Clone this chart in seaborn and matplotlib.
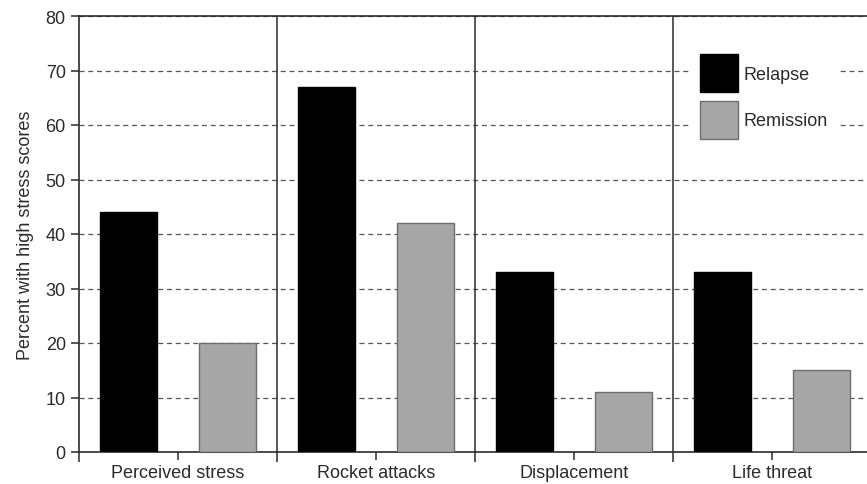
import numpy as np
import matplotlib
matplotlib.use("Agg")
import matplotlib.pyplot as plt
import seaborn as sns
import pandas as pd

# data
categories = ["Perceived stress", "Rocket attacks", "Displacement", "Life threat"]
relapse = [44, 67, 33, 33]
remission = [20, 42, 11, 15]
groups = ["Relapse", "Remission"]

df = pd.DataFrame({
    "category": categories * 2,
    "group": [groups[0]] * len(categories) + [groups[1]] * len(categories),
    "value": relapse + remission,
})

sns.set_style("white")
plt.rcParams["font.family"] = ["Liberation Sans", "DejaVu Sans"]
ink = "#2b2b2b"

fig = plt.figure(figsize=(8.67, 4.85), dpi=100)
ax = fig.add_axes([79 / 867, 1 - 453 / 485, (871 - 79) / 867, 436 / 485])

sns.barplot(data=df, x="category", y="value", hue="group", order=categories,
            hue_order=groups, palette=["#000000", "#a6a6a6"], width=1.0, gap=0.42,
            saturation=1, errorbar=None, ax=ax, zorder=3)
for bar, ec in zip(ax.patches, ["#000000"] * 4 + ["#6e6e6e"] * 4):
    bar.set_edgecolor(ec)
    bar.set_linewidth(1.0)

ax.set_xlim(-0.5, 3.5)
ax.set_ylim(0, 80)
ax.set_yticks(np.arange(0, 81, 10))
ax.yaxis.grid(True, linestyle=(0, (4, 3)), color="#555555", linewidth=0.9)
ax.set_axisbelow(True)

# separators between groups
for xb in [0.5, 1.5, 2.5]:
    ax.axvline(xb, color=ink, linewidth=1.1, zorder=4)

ax.set_xticks(np.arange(-0.5, 3.6, 1.0), minor=True)
ax.tick_params(axis="x", which="minor", direction="out", length=7, width=1.1, color=ink, bottom=True)
ax.tick_params(axis="both", which="major", direction="out", length=6, width=1.1, color=ink,
               labelsize=13, labelcolor=ink, bottom=True, left=True)
ax.tick_params(axis="x", pad=3)

for side in ["left", "bottom", "top"]:
    ax.spines[side].set_color(ink)
    ax.spines[side].set_linewidth(1.2)
ax.spines["right"].set_visible(False)

ax.set_xlabel("")
ax.set_ylabel("Percent with high stress scores", fontsize=13, color=ink, labelpad=8)

handles, labels = ax.get_legend_handles_labels()
leg = ax.legend(handles, labels, loc="upper left", bbox_to_anchor=(0.771, 0.937),
                frameon=True, facecolor="white", edgecolor="none", framealpha=1,
                fancybox=False, fontsize=13, handlelength=2.1, handleheight=2.87,
                handletextpad=0.3, labelspacing=0.48, borderpad=0.6, borderaxespad=0)
leg.set_zorder(5)
for t in leg.get_texts():
    t.set_color(ink)
for h, ec in zip(leg.legend_handles, ["#000000", "#6e6e6e"]):
    h.set_edgecolor(ec)

fig.savefig("out.png", dpi=100)
